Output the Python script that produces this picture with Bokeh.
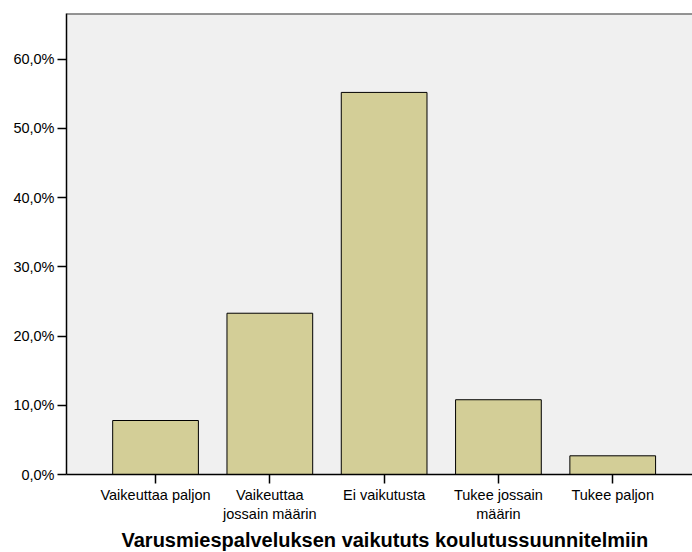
from bokeh.plotting import figure
from bokeh.models import FixedTicker, Range1d, Title, Span
from bokeh.embed import file_html
from bokeh.resources import INLINE

categories = ["Vaikeuttaa paljon", "Vaikeuttaa\njossain määrin", "Ei vaikutusta",
              "Tukee jossain\nmäärin", "Tukee paljon"]
percent = [7.8, 23.3, 55.2, 10.8, 2.7]
y_ticks = [0, 10, 20, 30, 40, 50, 60]
y_tick_labels = ["0,0%", "10,0%", "20,0%", "30,0%", "40,0%", "50,0%", "60,0%"]
x_title = "Varusmiespalveluksen vaikututs koulutussuunnitelmiin"

xs = list(range(len(categories)))

p = figure(width=692, height=552, output_backend="svg", toolbar_location=None,
           x_range=Range1d(-0.779, 4.698), y_range=Range1d(0, 66.6),
           min_border_left=66, min_border_right=0, min_border_top=13, min_border_bottom=78)
p.background_fill_color = "#F0F0F0"
p.border_fill_color = "white"
p.outline_line_color = None
p.xgrid.visible = False
p.ygrid.visible = False

p.vbar(x=xs, top=percent, width=0.75, fill_color="#D3CE97", line_color="black", line_width=1)

p.add_layout(Span(location=66.6, dimension="width", line_color="#333333", line_width=2))

p.xaxis.ticker = FixedTicker(ticks=xs)
p.xaxis.major_label_overrides = {i: c for i, c in zip(xs, categories)}
p.yaxis.ticker = FixedTicker(ticks=y_ticks)
p.yaxis.major_label_overrides = {t: l for t, l in zip(y_ticks, y_tick_labels)}

for ax in (p.xaxis, p.yaxis):
    ax.axis_line_color = "black"
    ax.axis_line_width = 1.5
    ax.major_tick_line_color = "black"
    ax.major_tick_line_width = 1.5
    ax.major_tick_out = 9
    ax.major_tick_in = 0
    ax.minor_tick_line_color = None
    ax.major_label_text_font = "Liberation Sans"
    ax.major_label_text_font_size = "14.5px"
    ax.major_label_text_color = "black"
    ax.major_label_standoff = 3

t = Title(text=x_title, align="left", offset=55, text_font="Liberation Sans",
          text_font_style="bold", text_font_size="20px", text_color="black", standoff=4)
p.add_layout(t, "below")

open("out.html", "w").write(file_html(p, INLINE))
